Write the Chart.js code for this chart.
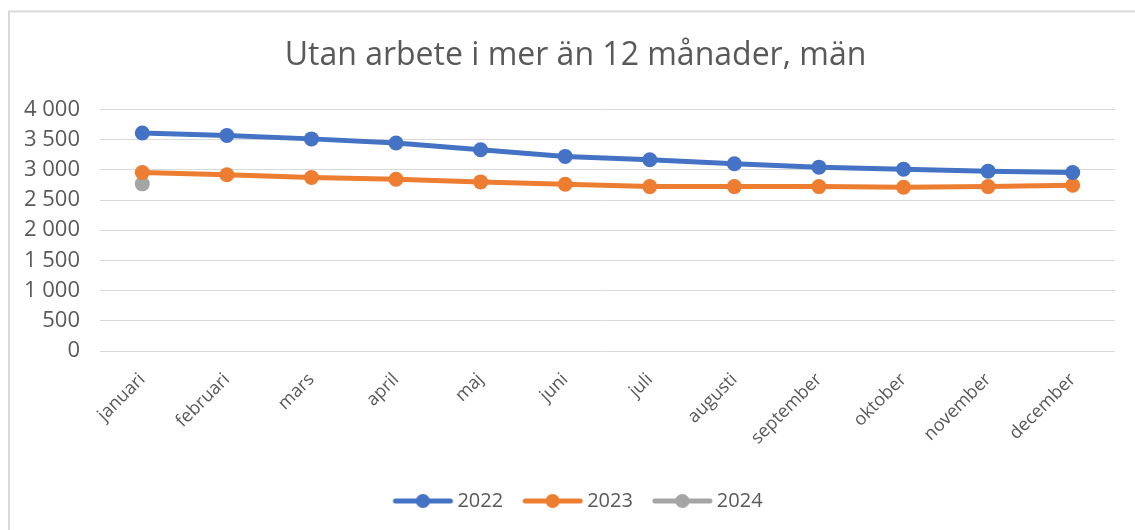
<!DOCTYPE html>
<html>
<head>
<meta charset="utf-8">
<script src="https://cdn.jsdelivr.net/npm/chart.js@4"></script>
<style>
  html, body { margin: 0; padding: 0; background: #fff; }
  #wrap { width: 1135px; height: 530px; position: relative; }
</style>
</head>
<body>
<div id="wrap"><canvas id="chart" width="1135" height="530"></canvas></div>
<script>
const months = ['januari', 'februari', 'mars', 'april', 'maj', 'juni', 'juli', 'augusti', 'september', 'oktober', 'november', 'december'];
const values2022 = [3610, 3567, 3512, 3444, 3333, 3222, 3167, 3100, 3044, 3011, 2978, 2956];
const values2023 = [2956, 2917, 2872, 2844, 2800, 2761, 2722, 2722, 2722, 2711, 2722, 2744];
const values2024 = [2767];

const textColor = '#595959';
const gridColor = '#d9d9d9';
const fontFamily = '"Open Sans", sans-serif';
const bottomPad = 9;

// legend marker: short line with a dot in the middle
function legendMarker(color) {
    const c = document.createElement('canvas');
    c.width = 70; c.height = 16;
    const g = c.getContext('2d');
    g.strokeStyle = color;
    g.lineWidth = 5;
    g.lineCap = 'round';
    g.beginPath(); g.moveTo(9, 8); g.lineTo(64, 8); g.stroke();
    g.fillStyle = color;
    g.beginPath(); g.arc(36.5, 8, 7, 0, Math.PI * 2); g.fill();
    return c;
}

// light frame like the Excel chart border; title and legend nudged a bit right
const framePlugin = {
    id: 'frame',
    afterLayout(chart) {
        if (chart.titleBlock) chart.titleBlock.left += 26;
        if (chart.legend) chart.legend.left += 33;
    },
    beforeDraw(chart) {
        const ctx = chart.ctx;
        ctx.save();
        ctx.fillStyle = '#fff';
        ctx.fillRect(0, 0, chart.width, chart.height);
        ctx.strokeStyle = gridColor;
        ctx.lineWidth = 2;
        ctx.beginPath();
        ctx.moveTo(9, 540); ctx.lineTo(9, 11.5); ctx.lineTo(1140, 11.5);
        ctx.stroke();
        ctx.restore();
    }
};

function series(label, data, color) {
    return {
        label: label,
        data: data,
        borderColor: color,
        backgroundColor: color,
        borderWidth: 5,
        pointRadius: 7.5,
        pointHoverRadius: 7.5,
        pointBorderWidth: 0,
        tension: 0,
        legendMarker: legendMarker(color)
    };
}

const ctx = document.getElementById('chart').getContext('2d');
new Chart(ctx, {
    type: 'line',
    data: {
        labels: months,
        datasets: [
            series('2022', values2022, '#4472C4'),
            series('2023', values2023, '#ED7D31'),
            series('2024', values2024, '#A5A5A5')
        ]
    },
    options: {
        responsive: false,
        animation: false,
        layout: { padding: { left: 10, right: 20, top: 10, bottom: bottomPad } },
        plugins: {
            title: {
                display: true,
                text: 'Utan arbete i mer än 12 månader, män',
                color: textColor,
                font: { family: fontFamily, size: 32, weight: 'normal', lineHeight: 1.2 },
                padding: { top: 27, bottom: 34 }
            },
            legend: {
                position: 'bottom',
                labels: {
                    color: textColor,
                    font: { family: fontFamily, size: 20 },
                    usePointStyle: true,
                    pointStyleWidth: 52,
                    boxHeight: 16,
                    padding: 22,
                    generateLabels(chart) {
                        return chart.data.datasets.map((ds, i) => ({
                            text: ds.label,
                            fillStyle: ds.borderColor,
                            strokeStyle: ds.borderColor,
                            fontColor: textColor,
                            pointStyle: ds.legendMarker,
                            datasetIndex: i,
                            hidden: false,
                            lineWidth: 0
                        }));
                    }
                }
            },
            tooltip: { enabled: false }
        },
        scales: {
            x: {
                offset: true,
                grid: { display: false },
                border: { display: false },
                ticks: {
                    color: textColor,
                    font: { family: fontFamily, size: 18 },
                    minRotation: 45,
                    maxRotation: 45,
                    padding: 10
                },
                afterFit(scale) {
                    const c = scale.chart;
                    scale.height = c.height - bottomPad - c.legend.height - 351;
                }
            },
            y: {
                min: 0,
                max: 4000,
                grid: { color: gridColor, lineWidth: 1, drawTicks: false },
                border: { display: false },
                ticks: {
                    stepSize: 500,
                    color: textColor,
                    font: { family: fontFamily, size: 22 },
                    padding: 20,
                    callback: v => String(v).replace(/\B(?=(\d{3})+(?!\d))/g, ' ')
                },
                afterFit(scale) { scale.width = 90; }
            }
        }
    },
    plugins: [framePlugin]
});
</script>
</body>
</html>
